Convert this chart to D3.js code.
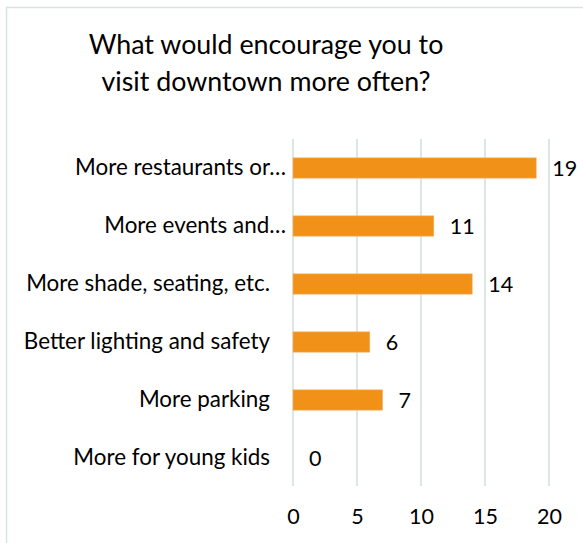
<!DOCTYPE html>
<html>
<head>
<meta charset="utf-8">
<script src="https://cdn.jsdelivr.net/npm/d3@7"></script>
<style>
  html, body { margin: 0; padding: 0; background: #fff; }
  svg { display: block; }
</style>
</head>
<body>
<svg id="chart" width="583" height="543"></svg>
<script>
const titleLines = ["What would encourage you to", "visit downtown more often?"];
const categories = [
  "More restaurants or…",
  "More events and…",
  "More shade, seating, etc.",
  "Better lighting and safety",
  "More parking",
  "More for young kids"
];
const values = [19, 11, 14, 6, 7, 0];
const xTicks = [0, 5, 10, 15, 20];

const FONT = "Lato, 'Open Sans', sans-serif";
const svg = d3.select("#chart");

// chart frame
svg.append("rect")
  .attr("x", 6.5).attr("y", 7.5)
  .attr("width", 600).attr("height", 600)
  .attr("fill", "#fff")
  .attr("stroke", "#D9E3E1").attr("stroke-width", 1.5);

// title
svg.append("g").selectAll("text")
  .data(titleLines)
  .join("text")
  .attr("x", 266)
  .attr("y", (d, i) => 54 + i * 37)
  .attr("text-anchor", "middle")
  .attr("font-family", FONT)
  .attr("font-size", 26.8)
  .attr("fill", "#000")
  .text(d => d);

const x = d3.scaleLinear().domain([0, 20]).range([293, 549]);
const y = d3.scaleBand().domain(categories).range([139, 487])
  .paddingInner(0.65).paddingOuter(0.325);

// gridlines
svg.append("g").selectAll("line")
  .data(xTicks)
  .join("line")
  .attr("x1", d => x(d)).attr("x2", d => x(d))
  .attr("y1", 139).attr("y2", 486)
  .attr("stroke", "#DCE6E4").attr("stroke-width", 2);

// x axis labels
const xAxis = d3.axisBottom(x).tickValues(xTicks).tickSize(0).tickPadding(0);
const gx = svg.append("g").attr("transform", "translate(0,524)").call(xAxis);
gx.select(".domain").remove();
gx.selectAll("text")
  .attr("y", 0).attr("dy", 0)
  .attr("font-family", FONT).attr("font-size", 21.5).attr("fill", "#000");

// y axis labels
const yAxis = d3.axisLeft(y).tickSize(0).tickPadding(0);
const gy = svg.append("g").call(yAxis);
gy.select(".domain").remove();
gy.selectAll(".tick text")
  .attr("x", d => d.endsWith("…") ? 286 : 270)
  .attr("font-family", FONT).attr("font-size", 22.4).attr("fill", "#000");

// bars
svg.append("g").selectAll("rect")
  .data(values)
  .join("rect")
  .attr("x", x(0))
  .attr("y", (d, i) => y(categories[i]))
  .attr("width", d => x(d) - x(0))
  .attr("height", y.bandwidth())
  .attr("fill", "#F19118")
  .attr("stroke", "#F6B46A").attr("stroke-width", 0.6);

// value labels
svg.append("g").selectAll("text")
  .data(values)
  .join("text")
  .attr("x", d => x(d) + 16)
  .attr("y", (d, i) => y(categories[i]) + y.bandwidth() / 2)
  .attr("dy", "0.36em")
  .attr("font-family", FONT).attr("font-size", 21.5).attr("fill", "#000")
  .text(d => d);
</script>
</body>
</html>
